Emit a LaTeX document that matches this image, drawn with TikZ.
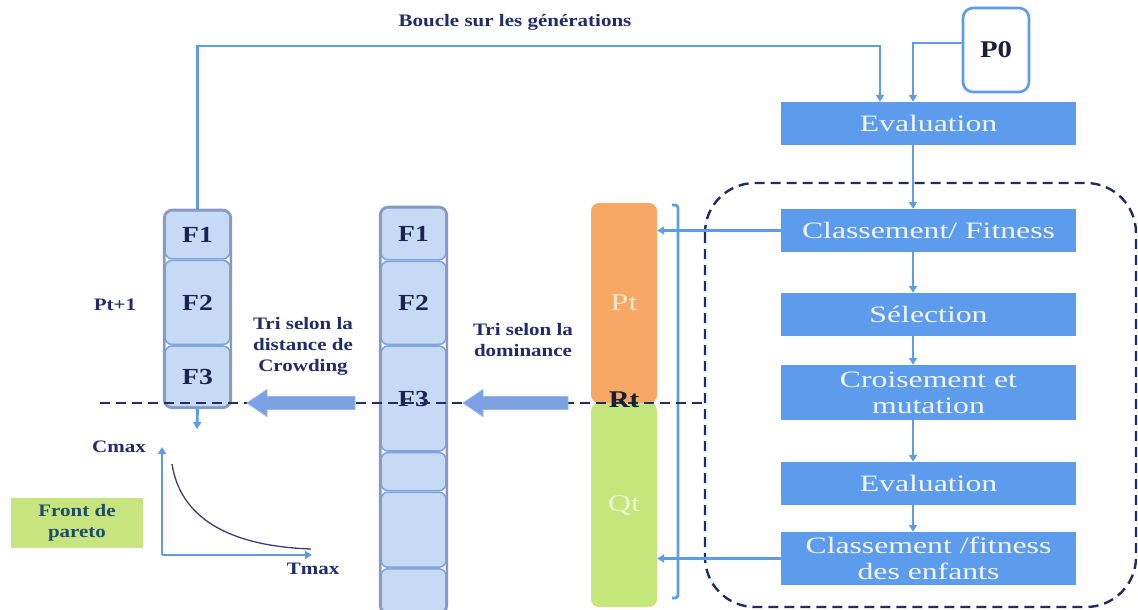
\documentclass[tikz,border=0pt]{standalone}
\usepackage{fontspec}
\setmainfont{Liberation Serif}
\newfontfamily\boxfont[FakeStretch=1.35]{Liberation Serif}
\newfontfamily\lblfont[FakeStretch=1.2]{Liberation Serif}
\usetikzlibrary{arrows.meta,calc,fit}

\definecolor{procblue}{RGB}{93,156,236}
\definecolor{linkblue}{RGB}{94,156,232}
\definecolor{boxtext}{RGB}{242,245,255}
\definecolor{navy}{RGB}{32,44,110}
\definecolor{cellnavy}{RGB}{26,36,82}
\definecolor{rtnavy}{RGB}{24,30,60}
\definecolor{dashnavy}{RGB}{30,45,100}
\definecolor{cellfill}{RGB}{199,218,245}
\definecolor{cellline}{RGB}{128,165,220}
\definecolor{framegray}{RGB}{138,152,196}
\definecolor{ptorange}{RGB}{247,168,100}
\definecolor{qtgreen}{RGB}{196,230,122}
\definecolor{frontgreen}{RGB}{200,228,126}
\definecolor{fronttext}{RGB}{28,78,108}
\definecolor{arrowblue}{RGB}{124,160,226}
\definecolor{arrowedge}{RGB}{150,182,236}
\definecolor{curvecol}{RGB}{60,62,112}

\tikzset{
  conn/.style={draw=linkblue, line width=2.8pt},
  arr/.style={conn, -{Triangle[length=7pt,width=8pt]}},
  procbox/.style={fill=procblue, minimum width=295pt, minimum height=43pt,
    inner sep=0pt, text=boxtext,
    font=\boxfont\fontsize{23.5}{28}\selectfont, align=center},
  lbl/.style={text=navy, font=\lblfont\bfseries\fontsize{17.5}{21}\selectfont,
    align=center, inner sep=0pt},
  cell/.style={draw=cellline, line width=1.6pt, fill=cellfill, rounded corners=7pt,
    minimum width=65pt, inner sep=0pt, anchor=north,
    font=\lblfont\bfseries\fontsize{23}{26}\selectfont, text=cellnavy},
  colframe/.style={draw=framegray, line width=2.6pt, rounded corners=8pt, inner sep=0pt},
  dashline/.style={draw=dashnavy, line width=2.4pt, dash pattern=on 10pt off 6pt},
  bigarrow/.style={fill=arrowblue, draw=arrowedge, line width=0.8pt},
  popbox/.style={rounded corners=8pt, minimum width=66pt, inner sep=0pt,
    font=\boxfont\fontsize{24}{26}\selectfont},
}

\begin{document}
\begin{tikzpicture}[x=1pt,y=-1pt]
\useasboundingbox (0,0) rectangle (1138,610);

% ---- process chain on the right ----
\node[draw=procblue, line width=2.6pt, fill=white, rounded corners=10pt,
      minimum width=66pt, minimum height=84pt, inner sep=0pt,
      font=\lblfont\bfseries\fontsize{24}{26}\selectfont, text=rtnavy]
      (P0) at (996,50) {P0};

\node[procbox] (eval1) at (928.5,123.5) {Evaluation};
\node[procbox] (class1) at (928.5,230.5) {Classement/ Fitness};
\node[procbox] (sel) at (928.5,314.5) {Sélection};
\node[procbox, minimum height=55pt] (crois) at (928.5,392.5) {Croisement et\\[-2pt]mutation};
\node[procbox] (eval2) at (928.5,483.5) {Evaluation};
\node[procbox, minimum height=53pt] (class2) at (928.5,558.5) {Classement /fitness\\[-2pt]des enfants};

\coordinate (chainx) at (913,0);
\draw[arr] (eval1.south -| chainx) -- (class1.north -| chainx);
\draw[arr] (class1.south -| chainx) -- (sel.north -| chainx);
\draw[arr] (sel.south -| chainx) -- (crois.north -| chainx);
\draw[arr] (crois.south -| chainx) -- (eval2.north -| chainx);
\draw[arr] (eval2.south -| chainx) -- (class2.north -| chainx);

% initial population enters the evaluation
\draw[arr] ($(P0.west)+(0,-7)$) -| (eval1.north -| chainx);

% dashed frame around the generation loop
\draw[dashline, rounded corners=50pt] (705,183) rectangle (1136,607);

% ---- Rt = Pt + Qt ----
\node[popbox, fill=ptorange, minimum height=200pt, text={rgb,255:red,252;green,228;blue,208}]
  (Pt) at (624,303) {Pt};
\node[popbox, fill=qtgreen, minimum height=204pt, text={rgb,255:red,234;green,246;blue,208}]
  (Qt) at (624,505) {Qt};

\draw[conn, rounded corners=3pt] (672,205) -- (678,205) -- (678,598) -- (672,598);
\draw[arr] (class1.west) -- (class1.west -| Pt.east);
\draw[arr] (class2.west) -- (class2.west -| Qt.east);

% ---- fronts after non-dominated sorting ----
\node[cell, minimum height=52pt] (M1) at (413.5,207) {F1};
\node[cell, minimum height=83pt] (M2) at (M1.south) {F2};
\node[cell, minimum height=105pt] (M3) at (M2.south) {F3};
\node[cell, minimum height=38pt] (M4) at (M3.south) {};
\node[cell, minimum height=75pt] (M5) at (M4.south) {};
\node[cell, minimum height=44pt] (M6) at (M5.south) {};
\node[colframe, fit=(M1)(M6)] (Mcol) {};

% ---- next population Pt+1 ----
\node[cell, minimum height=48pt] (L1) at (197.5,210) {F1};
\node[cell, minimum height=84pt] (L2) at (L1.south) {F2};
\node[cell, minimum height=61pt] (L3) at (L2.south) {F3};
\node[colframe, fit=(L1)(L3)] (Lcol) {};

\node[lbl] (ptnext) at (115,305) {Pt+1};

% loop over generations
\coordinate (loopR) at (880,46);
\draw[arr] (Lcol.north) |- (loopR) -- (loopR |- eval1.north);
\node[lbl] (loopLbl) at (515,22) {Boucle sur les générations};

% ---- cut line and sorting arrows ----
\draw[dashline] (100,403) -- (705,403);

\fill[bigarrow] (568,396.5) -- (483,396.5) -- (483,389.5) -- (463,403)
  -- (483,416.5) -- (483,409.5) -- (568,409.5) -- cycle;
\fill[bigarrow] (355,396.5) -- (267,396.5) -- (267,389.5) -- (247,403)
  -- (267,416.5) -- (267,409.5) -- (355,409.5) -- cycle;

\node[lbl] (triDom) at (523,340.5) {Tri selon la\\dominance};
\node[lbl] (triCrowd) at (303,346) {Tri selon la\\distance de\\Crowding};

\node[font=\lblfont\bfseries\fontsize{24}{26}\selectfont, text=rtnavy, inner sep=0pt]
  (Rt) at (624,400) {Rt};

% ---- Pareto front plot ----
\coordinate (orig) at (162,555);
\coordinate (gtop) at (197,429);
\draw[arr] (Lcol.south) -- (gtop);
\node[lbl, anchor=east] (cmax) at (146,447) {Cmax};
\node[lbl] (tmax) at (313,569) {Tmax};
\draw[arr] (orig) -- (orig |- cmax);
\draw[arr] (orig) -- (312,555);
\draw[curvecol, line width=1.3pt] (172,464) .. controls (180,516) and (226,546) .. (311,549);

\node[fill=frontgreen, minimum width=132pt, minimum height=50pt, inner sep=0pt,
      text=fronttext, font=\lblfont\bfseries\fontsize{17.5}{21}\selectfont, align=center]
      (front) at (77,523) {Front de\\pareto};
\end{tikzpicture}
\end{document}
